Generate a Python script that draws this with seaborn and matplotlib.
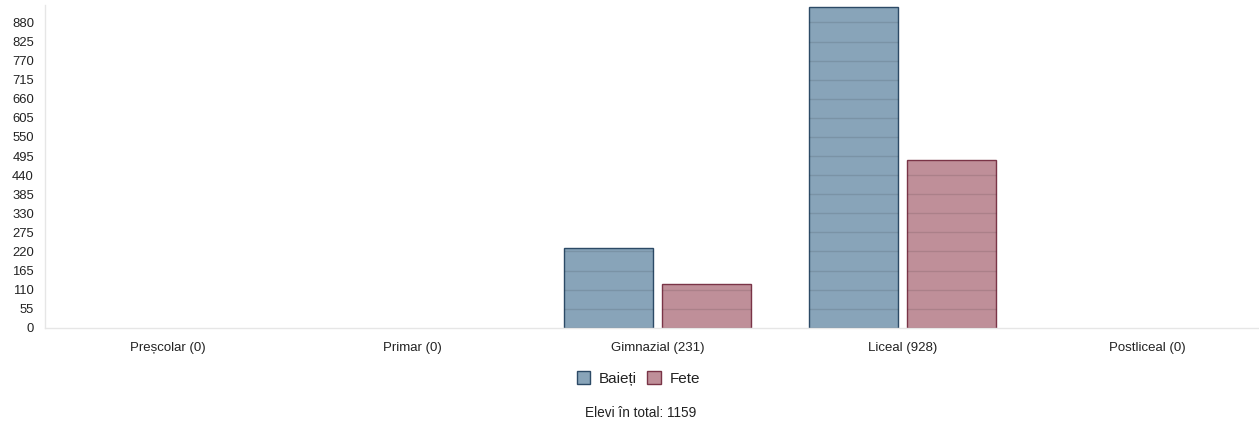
import pandas as pd
import numpy as np
import matplotlib
matplotlib.use("Agg")
import matplotlib.pyplot as plt
from matplotlib.patches import Patch
import seaborn as sns

categories = ["Preșcolar (0)", "Primar (0)", "Gimnazial (231)", "Liceal (928)", "Postliceal (0)"]
baieti = [0, 0, 229, 925, 0]
fete = [0, 0, 126, 483, 0]
series_names = ["Baieți", "Fete"]
y_ticks = list(range(0, 881, 55))
footer = "Elevi în total: 1159"

df = pd.DataFrame({
    "Nivel": categories * 2,
    "Elevi": baieti + fete,
    "Gen": [series_names[0]] * len(categories) + [series_names[1]] * len(categories),
})

sns.set_style("white")
plt.rcParams["font.family"] = ["Liberation Sans", "DejaVu Sans"]

fill_colors = ["#88a4b9", "#bf8f99"]
edge_colors = ["#2c4a66", "#7a3447"]

fig = plt.figure(figsize=(12.59, 4.24), dpi=100)
# the plot area runs a little past the right edge of the picture
ax = fig.add_axes([45 / 1259, 0.227, 1225 / 1259, 0.761])

sns.barplot(
    data=df, x="Nivel", y="Elevi", hue="Gen",
    palette=fill_colors, width=0.8, gap=0.1,
    legend=False, ax=ax, saturation=1,
)

# edge colours per series, and grid lines only visible inside the bars
for i, container in enumerate(ax.containers):
    for bar in container:
        h = bar.get_height()
        if h <= 0:
            bar.set_linewidth(0)
            continue
        bar.set_edgecolor(edge_colors[i])
        bar.set_linewidth(1.0)
        x0 = bar.get_x()
        x1 = x0 + bar.get_width()
        levels = [t for t in y_ticks if 0 < t < h]
        ax.hlines(levels, x0, x1, colors="black", alpha=0.1, linewidth=1, zorder=3)

ax.set_ylim(0, 930)
ax.set_xlim(-0.5, len(categories) - 0.5)
ax.set_yticks(y_ticks)
ax.set_yticklabels([str(t) for t in y_ticks], fontsize=9.4, color="#222222")
ax.tick_params(axis="y", length=0, pad=8)
ax.tick_params(axis="x", length=0, pad=10, labelsize=9.5, labelcolor="#222222")
ax.set_xlabel("")
ax.set_ylabel("")

for side in ["top", "right"]:
    ax.spines[side].set_visible(False)
for side in ["left", "bottom"]:
    ax.spines[side].set_color("#e6e6e6")
    ax.spines[side].set_linewidth(1)

handles = [Patch(facecolor=fill_colors[i], edgecolor=edge_colors[i], linewidth=1, label=series_names[i])
           for i in range(2)]
fig.legend(handles=handles, loc="center", bbox_to_anchor=(0.507, 0.108), ncol=2,
           frameon=False, fontsize=11, handlelength=0.9, handleheight=0.9,
           handletextpad=0.55, columnspacing=0.7, labelcolor="#222222")

fig.text(0.509, 0.025, footer, ha="center", va="center", fontsize=9.8, color="#222222")

plt.savefig("out.png", dpi=100)
